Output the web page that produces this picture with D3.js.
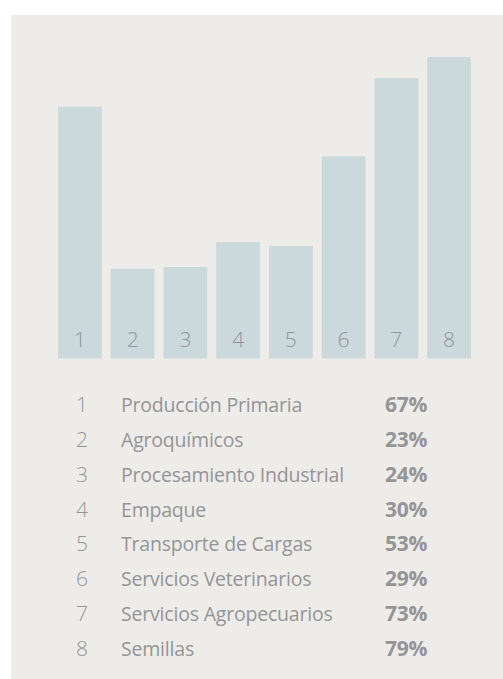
<!DOCTYPE html>
<html>
<head>
<meta charset="utf-8">
<script src="https://cdn.jsdelivr.net/npm/d3@7"></script>
<style>
  body { margin: 0; background: #fff; }
  svg { display: block; }
</style>
</head>
<body>
<div id="chart"></div>
<script>
const ids = ['1', '2', '3', '4', '5', '6', '7', '8'];
const barValues = [66, 23.5, 24, 30.5, 29.5, 53, 73.5, 79];
const labels = ['Producción Primaria', 'Agroquímicos', 'Procesamiento Industrial', 'Empaque',
    'Transporte de Cargas', 'Servicios Veterinarios', 'Servicios Agropecuarios', 'Semillas'];
const pcts = ['67%', '23%', '24%', '30%', '53%', '29%', '73%', '79%'];

const W = 503, H = 679;
const BAR_COLOR = '#cbd8dc';
const TEXT_COLOR = '#939598';
const FONT = '"Open Sans", "Noto Sans", sans-serif';

const svg = d3.select('#chart').append('svg')
    .attr('width', W)
    .attr('height', H);

// panel
svg.append('rect')
    .attr('x', 11).attr('y', 15)
    .attr('width', W - 11).attr('height', H - 15)
    .attr('fill', '#eeece8');

const x = d3.scaleBand().domain(ids).range([58, 471]).paddingInner(0.17).paddingOuter(0);
const y = d3.scaleLinear().domain([0, 79]).range([358.5, 57]);

const bars = svg.append('g').attr('class', 'bars');
bars.selectAll('rect')
    .data(ids)
    .join('rect')
    .attr('x', d => x(d))
    .attr('width', x.bandwidth())
    .attr('y', (d, i) => y(barValues[i]))
    .attr('height', (d, i) => y(0) - y(barValues[i]))
    .attr('fill', BAR_COLOR);

bars.selectAll('text')
    .data(ids)
    .join('text')
    .attr('x', d => x(d) + x.bandwidth() / 2)
    .attr('y', 347)
    .attr('text-anchor', 'middle')
    .attr('font-family', FONT)
    .attr('font-weight', 300)
    .attr('font-size', 21)
    .attr('fill', TEXT_COLOR)
    .text(d => d);

// legend
const row = d3.scalePoint().domain(ids).range([412, 656]);
const legend = svg.append('g').attr('class', 'legend')
    .attr('font-family', FONT)
    .attr('fill', TEXT_COLOR);

const rows = legend.selectAll('g')
    .data(ids)
    .join('g')
    .attr('transform', d => `translate(0,${row(d)})`);

rows.append('text')
    .attr('x', 82)
    .attr('text-anchor', 'middle')
    .attr('font-weight', 300)
    .attr('font-size', 21)
    .text(d => d);

rows.append('text')
    .attr('x', 121)
    .attr('font-size', 19.5)
    .attr('letter-spacing', -0.2)
    .text((d, i) => labels[i]);

rows.append('text')
    .attr('x', 385)
    .attr('font-weight', 700)
    .attr('font-size', 21)
    .attr('letter-spacing', -0.3)
    .text((d, i) => pcts[i]);
</script>
</body>
</html>
